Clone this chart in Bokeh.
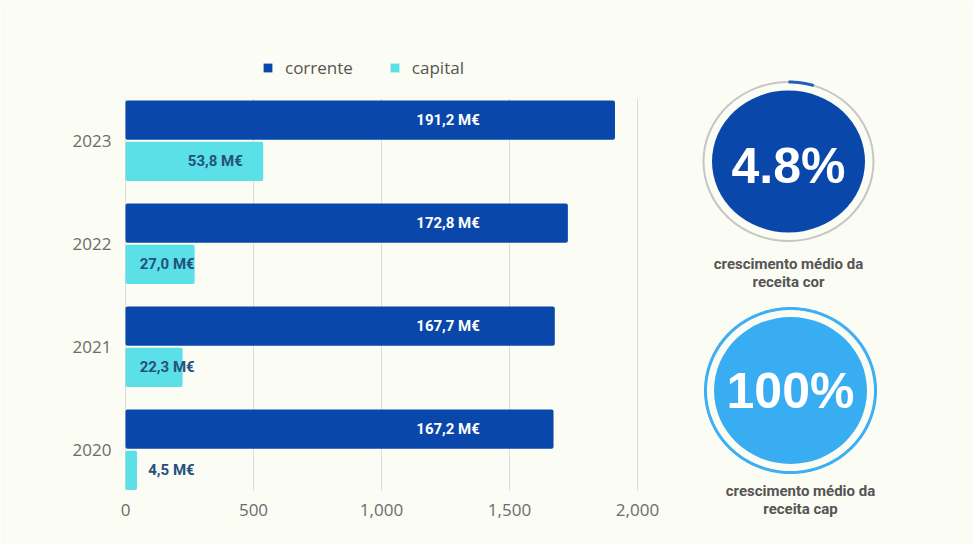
import numpy as np
from bokeh.plotting import figure
from bokeh.models import (ColumnDataSource, FixedTicker, NumeralTickFormatter,
                          CustomJSTickFormatter, Legend, LegendItem, Range1d)
from bokeh.core.properties import value
from bokeh.embed import file_html
from bokeh.resources import INLINE

# ---------------- data ----------------
years = ["2020", "2021", "2022", "2023"]
corrente = [167.2, 167.7, 172.8, 191.2]   # M€
capital = [4.5, 22.3, 27.0, 53.8]         # M€
x_ticks = [0, 500, 1000, 1500, 2000]
scale = 10  # axis units = 0.1 M€

kpi_values = [4.8, 100]
kpi_caption_1 = ["crescimento médio da", "crescimento médio da"]
kpi_caption_2 = ["receita cor", "receita cap"]

# ---------------- layout / styles ----------------
W, H = 973, 544
BL, BR, BT, BB = 60, 0, 30, 5            # borders -> frame
FRAME_L, FRAME_R = BL, W - BR
FRAME_T, FRAME_B = BT, H - BB
BARS_L, BARS_R = 125, 637                # pixel extent of x = 0 .. 2000
BARS_T, BARS_B = 98, 490                 # pixel extent of the bar area
Y_TOP, Y_BOT = 3.41, -0.396              # data extent of the bar area
X_MAX_BARS = 2000

ppu_y = (BARS_B - BARS_T) / (Y_TOP - Y_BOT)
ppu_x = (BARS_R - BARS_L) / X_MAX_BARS
y_start = Y_BOT - (FRAME_B - BARS_B) / ppu_y
y_end = Y_TOP + (BARS_T - FRAME_T) / ppu_y
x_start = -(BARS_L - FRAME_L) / ppu_x
x_end = (FRAME_R - BARS_L) / ppu_x

BG = "#fbfcf4"
C_COR = "#0a47aa"
C_CAP = "#5ae0e6"
GRAY = "#6b6b6b"

def fmt(v):
    return f"{v:.1f}".replace(".", ",") + " M€"

ypos = list(range(len(years)))
src = ColumnDataSource(dict(
    y_cor=[y + 0.2 for y in ypos],
    y_cap=[y - 0.2 for y in ypos],
    cor=[v * scale for v in corrente],
    cap=[v * scale for v in capital],
    cor_lab=[fmt(v) for v in corrente],
    cap_lab=[fmt(v) for v in capital],
    cor_lab_x=[1260 for _ in corrente],
    cap_lab_x=[max(v * scale, 350) - 80 for v in capital],
))

p = figure(width=W, height=H, output_backend="svg", toolbar_location=None,
           x_range=Range1d(x_start, x_end), y_range=Range1d(y_start, y_end),
           min_border_left=BL, min_border_right=BR, min_border_top=BT,
           min_border_bottom=BB)
p.title.visible = False
p.background_fill_color = BG
p.border_fill_color = BG
p.outline_line_color = None

# pixel ranges for the KPI panel on the right
p.extra_x_ranges = {"px": Range1d(FRAME_L, FRAME_R)}
p.extra_y_ranges = {"px": Range1d(FRAME_B, FRAME_T)}

# grid lines restricted to the bar area
p.xgrid.visible = False
p.ygrid.visible = False
p.segment(x0=x_ticks, x1=x_ticks, y0=[Y_BOT] * len(x_ticks), y1=[Y_TOP] * len(x_ticks),
          line_color="#dcdcdc", line_width=1)

r1 = p.hbar(y="y_cor", right="cor", left=0, height=0.38, source=src,
            fill_color=C_COR, line_color=None, border_radius=2)
r2 = p.hbar(y="y_cap", right="cap", left=0, height=0.38, source=src,
            fill_color=C_CAP, line_color=None, border_radius=2)

p.text(x="cor_lab_x", y="y_cor", text="cor_lab", source=src,
       text_align="center", text_baseline="middle", text_color="white",
       text_font=value("Roboto"), text_font_size="15px", text_font_style="bold")
p.text(x="cap_lab_x", y="y_cap", text="cap_lab", source=src,
       text_align="right", text_baseline="middle", text_color="#25507e",
       text_font=value("Roboto"), text_font_size="15px", text_font_style="bold")

p.xaxis.ticker = FixedTicker(ticks=x_ticks)
p.xaxis.formatter = NumeralTickFormatter(format="0,0")
p.xaxis.fixed_location = Y_BOT
p.yaxis.ticker = FixedTicker(ticks=ypos)
p.yaxis.formatter = CustomJSTickFormatter(args=dict(labels=years),
                                          code="return labels[Math.round(tick)]")
p.yaxis.fixed_location = 0
for ax in (p.xaxis, p.yaxis):
    ax.axis_line_color = None
    ax.major_tick_line_color = None
    ax.minor_tick_line_color = None
    ax.major_tick_out = 0
    ax.major_tick_in = 0
    ax.minor_tick_out = 0
    ax.major_label_text_color = GRAY
    ax.major_label_text_font = "Open Sans"
    ax.major_label_text_font_size = "17px"
p.xaxis.major_label_standoff = 13
p.yaxis.major_label_standoff = 14

legend = Legend(items=[LegendItem(label="corrente", renderers=[r1]),
                       LegendItem(label="capital", renderers=[r2])],
                orientation="horizontal",
                location=(262 - FRAME_L, FRAME_B - 79),
                glyph_width=11, glyph_height=11, label_standoff=12,
                spacing=36, padding=0, margin=0,
                label_text_font="Open Sans", label_text_font_size="17px",
                label_text_color="#555555", label_height=20,
                border_line_color=None, background_fill_alpha=0)
p.add_layout(legend, "center")

# ---------------- KPI circles (page-pixel coordinates) ----------------
centers_x = [788, 790]
centers_y = [161, 390]
ring_rx = [85, 85]
ring_ry = [79.5, 82]
text_dy = [4, 0]
fills = [C_COR, "#39adf2"]
arc_cols = ["#1f5fc0", "#3db0f5"]
ring_cols = ["#c6c6c6", "#3db0f5"]
px = dict(x_range_name="px", y_range_name="px")

for i, v in enumerate(kpi_values):
    cx, cy, rx, ry = centers_x[i], centers_y[i], ring_rx[i], ring_ry[i]
    p.ellipse(x=[cx], y=[cy], width=[2 * rx], height=[2 * ry],
              fill_color=None, line_color=ring_cols[i], line_width=2, **px)
    phi = np.linspace(0, 2 * np.pi * v / 100, 200)
    p.line(x=cx + rx * np.sin(phi), y=cy - ry * np.cos(phi),
           line_color=arc_cols[i], line_width=3, **px)
    p.ellipse(x=[cx], y=[cy], width=[2 * rx - 17], height=[2 * ry - 17],
              fill_color=fills[i], line_color=None, **px)
    p.text(x=[cx], y=[cy + text_dy[i]], text=[f"{v:g}%"], text_align="center",
           text_baseline="middle", text_color="white",
           text_font=value("Liberation Sans"), text_font_style="bold",
           text_font_size="50px", **px)

cap_x = [788, 800]
cap_y1 = [263, 490]
p.text(x=cap_x, y=cap_y1, text=kpi_caption_1, text_align="center",
       text_baseline="middle", text_color="#555555",
       text_font=value("Roboto"), text_font_style="bold", text_font_size="15px", **px)
p.text(x=cap_x, y=[y + 18.5 for y in cap_y1], text=kpi_caption_2, text_align="center",
       text_baseline="middle", text_color="#555555",
       text_font=value("Roboto"), text_font_style="bold", text_font_size="15px", **px)

open("out.html", "w").write(file_html(p, INLINE))
